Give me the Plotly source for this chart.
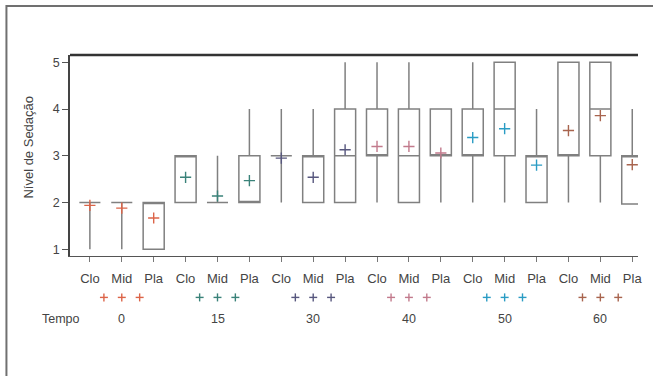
import plotly.graph_objects as go

# ---- data ----
tempos = ["0", "15", "30", "40", "50", "60"]
groups = ["Clo", "Mid", "Pla"]
tempo_colors = ["#dc6448", "#3a8279", "#57577e", "#c27a8c", "#2a9cc4", "#a8644e"]

q1 =     [2, 2, 1,   2, 2, 2,   3, 2, 2,   3, 2, 3,   3, 3, 2,   3, 3, 1.97]
median = [2, 2, 2,   3, 2, 2,   3, 3, 3,   3, 3, 3,   3, 4, 3,   3, 4, 3]
q3 =     [2, 2, 2,   3, 2, 3,   3, 3, 4,   4, 4, 4,   4, 5, 3,   5, 5, 3]
low =    [1, 1, 1,   2, 2, 2,   2, 2, 2,   2, 2, 2,   2, 2, 2,   2, 2, 1.97]
high =   [2, 2, 2,   3, 3, 4,   4, 4, 5,   5, 5, 4,   5, 5, 4,   5, 5, 4]
means =  [1.94, 1.88, 1.67, 2.54, 2.14, 2.47, 2.95, 2.54, 3.13,
          3.2, 3.2, 3.06, 3.39, 3.58, 2.8, 3.54, 3.86, 2.81]

n = len(q1)
xpos = list(range(n))
ticktext = [groups[i % 3] for i in range(n)]
mean_colors = [tempo_colors[i // 3] for i in range(n)]

FONT = "Liberation Sans, Arial, sans-serif"
TXT = "#444444"

fig = go.Figure()

fig.add_trace(go.Box(
    x=xpos, q1=q1, median=median, q3=q3, lowerfence=low, upperfence=high,
    width=0.66, whiskerwidth=0, fillcolor="white",
    line=dict(color="#808080", width=1.5),
    boxpoints=False, showlegend=False, hoverinfo="skip",
))

fig.add_trace(go.Scatter(
    x=xpos, y=means, mode="markers", showlegend=False,
    marker=dict(symbol="cross-thin", size=8,
                line=dict(color=mean_colors, width=1.4)),
))

shapes = [
    # outer frame (clipped by page)
    dict(type="rect", xref="paper", yref="paper", x0=-0.1119, x1=1.2,
         y0=-0.8, y1=1.2438, line=dict(color="#707070", width=2)),
    # thick top line of plot area
    dict(type="line", xref="paper", yref="paper", x0=0, x1=1, y0=1, y1=1,
         line=dict(color="#333333", width=2.5)),
]

# legend-like row of crosses under the labels (drawn as small shape crosses)
ROW_Y = -0.206      # paper y of the cross row
HALF_X = 0.125      # half arm length in category units
HALF_Y = 0.02       # half arm length in paper units
for t in range(len(tempos)):
    mid = t * 3 + 1
    for off in (-0.56, 0, 0.56):
        cx = mid + off
        col = tempo_colors[t]
        shapes.append(dict(type="line", xref="x", yref="paper",
                           x0=cx - HALF_X, x1=cx + HALF_X, y0=ROW_Y, y1=ROW_Y,
                           line=dict(color=col, width=1.4)))
        shapes.append(dict(type="line", xref="x", yref="paper",
                           x0=cx, x1=cx, y0=ROW_Y - HALF_Y, y1=ROW_Y + HALF_Y,
                           line=dict(color=col, width=1.4)))

annotations = []
for t, lab in enumerate(tempos):
    annotations.append(dict(x=t * 3 + 1, y=-0.313, xref="x", yref="paper",
                            xanchor="center", yanchor="middle",
                            text=lab, showarrow=False,
                            font=dict(size=12.5, color=TXT, family=FONT)))
annotations.append(dict(x=-0.016, y=-0.313, xref="paper", yref="paper",
                        xanchor="center", yanchor="middle",
                        text="Tempo", showarrow=False,
                        font=dict(size=12.5, color=TXT, family=FONT)))
annotations.append(dict(x=-0.073, y=0.542, xref="paper", yref="paper",
                        xanchor="center", yanchor="middle",
                        text="Nível de Sedação", showarrow=False, textangle=-90,
                        font=dict(size=13, color=TXT, family=FONT)))

fig.update_layout(
    width=653, height=376,
    margin=dict(l=70, r=11, t=55, b=120),
    paper_bgcolor="white", plot_bgcolor="white",
    font=dict(family=FONT, color=TXT, size=12),
    showlegend=False,
    annotations=annotations, shapes=shapes,
    xaxis=dict(
        range=[-0.623, 17.18], tickmode="array", tickvals=xpos, ticktext=ticktext,
        showgrid=False, zeroline=False, showline=True, linecolor="#555555",
        linewidth=1, ticks="outside", ticklen=5, tickcolor="#777777",
        tickfont=dict(size=13, color=TXT), ticklabelstandoff=5,
    ),
    yaxis=dict(
        range=[0.857, 5.156], tickvals=[1, 2, 3, 4, 5],
        showgrid=False, zeroline=False, showline=True, linecolor="#444444",
        linewidth=1.5, ticks="outside", ticklen=6, tickcolor="#555555",
        tickfont=dict(size=12.5, color=TXT),
    ),
)

fig.write_html("out.html", config={"displayModeBar": False},
               post_script="document.body.style.margin='0px';")
